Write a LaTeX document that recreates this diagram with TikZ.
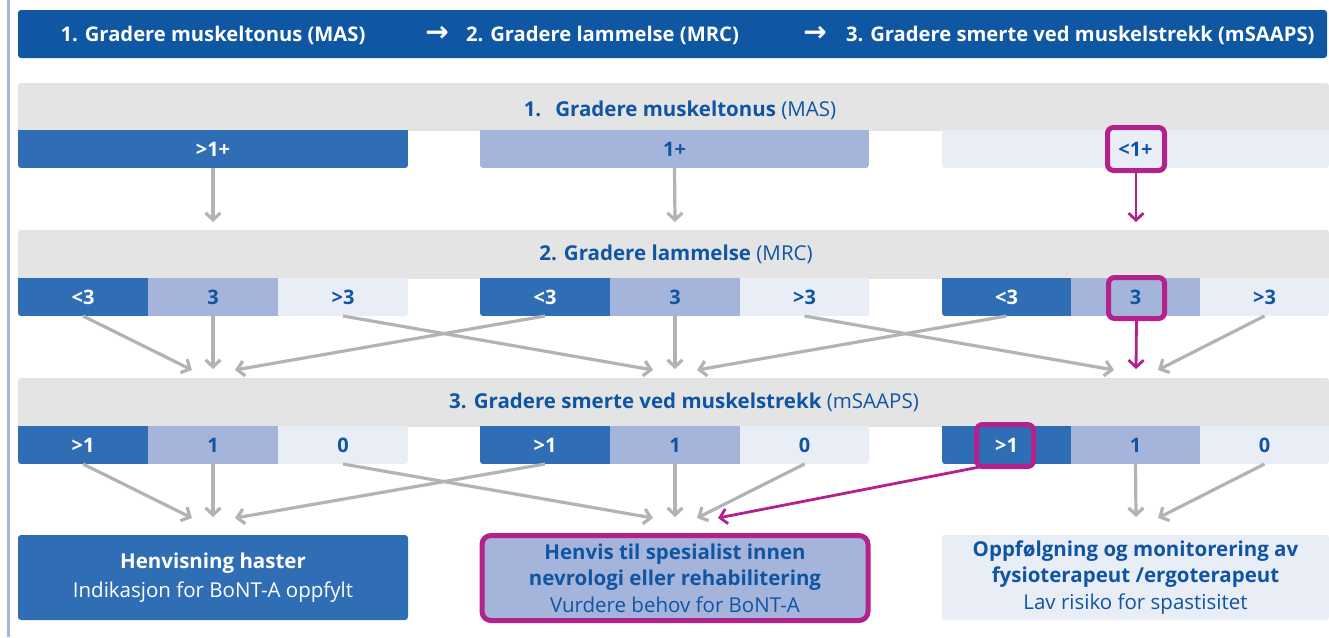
\documentclass[tikz,border=0pt]{standalone}
\usepackage{fontspec}
\setmainfont{Open Sans}
\newfontfamily\arrowfont{DejaVu Sans}
\usetikzlibrary{arrows.meta,calc}
\definecolor{topblue}{HTML}{0F56A3}
\definecolor{dkblue}{HTML}{2F6DB5}
\definecolor{lav}{HTML}{A5B4DA}
\definecolor{light}{HTML}{E8EDF6}
\definecolor{bandgray}{HTML}{E3E4E3}
\definecolor{txtblue}{HTML}{1055A3}
\definecolor{mag}{HTML}{B3218D}
\definecolor{arrgray}{HTML}{B3B3B3}
\begin{document}
\begin{tikzpicture}[x=1pt,y=-1pt,
 every node/.style={inner sep=0pt, outer sep=0pt},
 seg/.style={minimum width=130pt, minimum height=38pt, font=\fontsize{20}{22}\selectfont\bfseries},
 dk/.style={seg, fill=dkblue, text=white},
 md/.style={seg, fill=lav, text=txtblue},
 lt/.style={seg, fill=light, text=txtblue},
 hl/.style={draw=mag, line width=5pt, rounded corners=6pt, minimum width=57pt, minimum height=43pt},
 conn/.style={draw=arrgray, line width=3.2pt, -{Straight Barb[length=7pt,width=15pt]}},
 hconn/.style={draw=mag, line width=2.8pt, -{Straight Barb[length=7pt,width=15pt]}},
 bandtitle/.style={font=\fontsize{20.5}{22}\selectfont, text=txtblue},
 toptext/.style={font=\fontsize{20.2}{22}\selectfont\bfseries, text=white},
 toparrow/.style={font=\fontsize{28}{30}\selectfont\arrowfont\bfseries, text=white},
 endbox/.style={minimum width=390pt, minimum height=85pt, align=center, rounded corners=3pt},
]
\useasboundingbox (0,0) rectangle (1329,637);
\fill[white] (0,0) rectangle (1329,637);
% left rule
\fill[lav] (7,0) rectangle (9.5,637);

% top bar
\node[fill=topblue, rounded corners=3pt, minimum width=1309pt, minimum height=48pt] (bar) at (672.5,34) {};
\node[toptext] (top1) at (213,35) {1. Gradere muskeltonus (MAS)};
\node[toparrow] (ar1) at (437,34) {→};
\node[toptext, anchor=west] (top2) at (466,35) {2. Gradere lammelse (MRC)};
\node[toparrow] (ar2) at (815,34) {→};
\node[toptext, anchor=west] (top3) at (846,35) {3. Gradere smerte ved muskelstrekk (mSAAPS)};

% bands
\foreach \yt/\yb in {83/130, 230/278, 378/426} {
  \begin{scope}
    \clip (0,\yt-5) rectangle (1329,\yb);
    \fill[bandgray, rounded corners=3pt] (18,\yt) rectangle (1329,\yb+10);
  \end{scope}
}
\node[bandtitle] (bt1) at (680,110) {\textbf{1.\hspace{14pt}Gradere muskeltonus} (MAS)};
\node[bandtitle] (bt2) at (676,254) {\textbf{2. Gradere lammelse} (MRC)};
\node[bandtitle] (bt3) at (684,402) {\textbf{3. Gradere smerte ved muskelstrekk} (mSAAPS)};

% row 1
\begin{scope}\clip[rounded corners=3pt] (18,120) rectangle (408,168);
\node[dk, minimum width=390pt] (r1a) at (213,149) {>1+};\end{scope}
\begin{scope}\clip[rounded corners=3pt] (480,120) rectangle (869,168);
\node[md, minimum width=389pt] (r1b) at (674.5,149) {1+};\end{scope}
\begin{scope}\clip[rounded corners=3pt] (942,120) rectangle (1329,168);
\node[lt, minimum width=387pt] (r1c) at (1135.5,149) {<1+};\end{scope}

% row 2
\begin{scope}\clip[rounded corners=3pt] (18,270) rectangle (408,316);
\node[dk] (r2a1) at (83,297) {<3};
\node[md] (r2a2) at (213,297) {3};
\node[lt] (r2a3) at (343,297) {>3};\end{scope}
\begin{scope}\clip[rounded corners=3pt] (480,270) rectangle (869,316);
\node[dk] (r2b1) at (545,297) {<3};
\node[md] (r2b2) at (675,297) {3};
\node[lt] (r2b3) at (804.5,297) {>3};\end{scope}
\begin{scope}\clip[rounded corners=3pt] (942,270) rectangle (1329,316);
\node[dk, minimum width=129pt] (r2c1) at (1006.5,297) {<3};
\node[md, minimum width=129pt] (r2c2) at (1135.5,297) {3};
\node[lt, minimum width=129pt] (r2c3) at (1264.5,297) {>3};\end{scope}

% row 3
\begin{scope}\clip[rounded corners=3pt] (18,418) rectangle (408,464);
\node[dk] (r3a1) at (83,445) {>1};
\node[md] (r3a2) at (213,445) {1};
\node[lt] (r3a3) at (343,445) {0};\end{scope}
\begin{scope}\clip[rounded corners=3pt] (480,418) rectangle (869,464);
\node[dk] (r3b1) at (545,445) {>1};
\node[md] (r3b2) at (675,445) {1};
\node[lt] (r3b3) at (804.5,445) {0};\end{scope}
\begin{scope}\clip[rounded corners=3pt] (942,418) rectangle (1329,464);
\node[dk, minimum width=129pt] (r3c1) at (1006.5,445) {>1};
\node[md, minimum width=129pt] (r3c2) at (1135.5,445) {1};
\node[lt, minimum width=129pt] (r3c3) at (1264.5,445) {0};\end{scope}

% highlights
\node[hl] (h1) at (1136,149) {};
\node[hl, minimum width=56pt, minimum height=41pt] (h2) at (1136.5,298) {};
\node[hl, minimum height=42pt] (h3) at (1005,445.5) {};

% end boxes
\node[endbox, fill=dkblue, text=white, font=\fontsize{20.5}{25}\selectfont] (b1) at (213,577.5)
  {\textbf{Henvisning haster}\\[4pt]Indikasjon for BoNT-A oppfylt};
\node[endbox, fill=lav, draw=mag, line width=5pt, rounded corners=9pt, minimum width=386pt, minimum height=85pt, text=txtblue, font=\fontsize{20.5}{26.5}\selectfont] (b2) at (675,578)
  {\textbf{Henvis til spesialist innen}\\\textbf{nevrologi eller rehabilitering}\\Vurdere behov for BoNT-A};
\node[endbox, fill=light, minimum width=387pt, text=txtblue, font=\fontsize{20.5}{26.5}\selectfont] (b3) at (1135.5,577.5)
  {\textbf{Oppfølgning og monitorering av}\\\textbf{fysioterapeut /ergoterapeut}\\Lav risiko for spastisitet};

% targets
\coordinate (t1a) at (213,222);
\coordinate (t1b) at (675,222);
\coordinate (t1c) at (1136,222);
\coordinate (t2aL) at (192,370); \coordinate (t2aM) at (213,369); \coordinate (t2aR) at (235,370);
\coordinate (t2bL) at (653,370); \coordinate (t2bM) at (675,369); \coordinate (t2bR) at (697,370);
\coordinate (t2cL) at (1114,370); \coordinate (t2cM) at (1136,369); \coordinate (t2cR) at (1158,370);
\coordinate (t3aL) at (192,518); \coordinate (t3aM) at (213,517); \coordinate (t3aR) at (235,518);
\coordinate (t3bL) at (653,518); \coordinate (t3bM) at (675,517); \coordinate (t3bR) at (697,518);
\coordinate (t3bX) at (718,518);
\coordinate (t3cM) at (1136,517); \coordinate (t3cR) at (1158,518);

% connectors row1 -> row2
\draw[conn] (r1a.south) -- (t1a);
\draw[conn] (r1b.south) -- (t1b);
\draw[hconn] (h1.south) -- (t1c);
% row2 -> row3
\draw[conn] (r2a1.south) -- (t2aL);
\draw[conn] (r2a2.south) -- (t2aM);
\draw[conn] (r2a3.south) -- (t2bL);
\draw[conn] (r2b1.south) -- (t2aR);
\draw[conn] (r2b2.south) -- (t2bM);
\draw[conn] (r2b3.south) -- (t2cL);
\draw[conn] (r2c1.south) -- (t2bR);
\draw[hconn] (h2.south) -- (t2cM);
\draw[conn] (r2c3.south) -- (t2cR);
% row3 -> outcomes
\draw[conn] (r3a1.south) -- (t3aL);
\draw[conn] (r3a2.south) -- (t3aM);
\draw[conn] (r3a3.south) -- (t3bL);
\draw[conn] (r3b1.south) -- (t3aR);
\draw[conn] (r3b2.south) -- (t3bM);
\draw[conn] (r3b3.south) -- (t3bR);
\draw[hconn] ($(h3.south west)!0.1!(h3.south east)$) -- (t3bX);
\draw[conn] (r3c2.south) -- (t3cM);
\draw[conn] (r3c3.south) -- (t3cR);
\end{tikzpicture}
\end{document}
